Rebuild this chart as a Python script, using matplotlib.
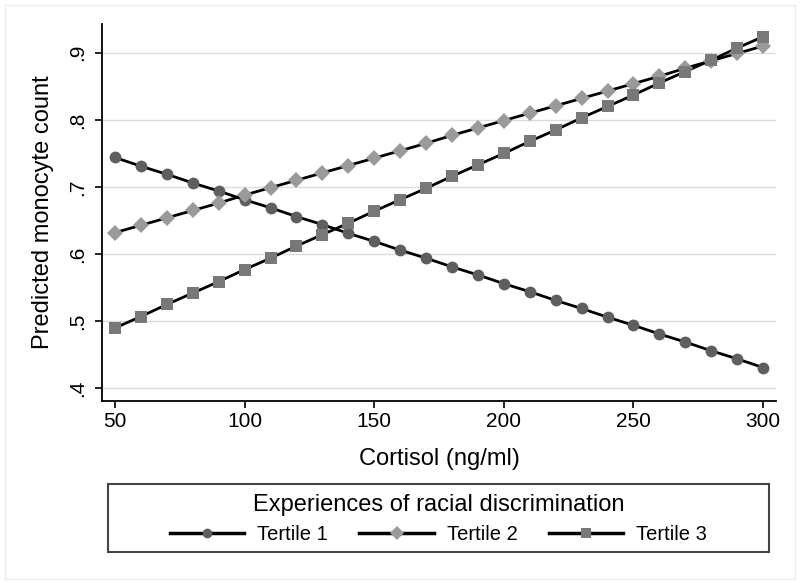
import matplotlib.pyplot as plt
from matplotlib.lines import Line2D
from matplotlib.patches import Rectangle

plt.rcParams['font.family'] = ['Liberation Sans', 'DejaVu Sans']

cortisol = [50, 60, 70, 80, 90, 100, 110, 120, 130, 140, 150, 160, 170,
            180, 190, 200, 210, 220, 230, 240, 250, 260, 270, 280, 290, 300]

tertile1 = [0.744, 0.731, 0.719, 0.706, 0.694, 0.681, 0.669, 0.656, 0.644,
            0.631, 0.619, 0.606, 0.594, 0.581, 0.569, 0.556, 0.544, 0.531,
            0.519, 0.506, 0.494, 0.481, 0.469, 0.456, 0.444, 0.431]
tertile2 = [0.632, 0.643, 0.654, 0.665, 0.676, 0.688, 0.699, 0.710, 0.721,
            0.732, 0.743, 0.754, 0.765, 0.777, 0.788, 0.799, 0.810, 0.821,
            0.832, 0.843, 0.854, 0.865, 0.877, 0.888, 0.899, 0.910]
tertile3 = [0.490, 0.507, 0.525, 0.542, 0.559, 0.577, 0.594, 0.612, 0.629,
            0.646, 0.664, 0.681, 0.698, 0.716, 0.733, 0.750, 0.768, 0.785,
            0.803, 0.820, 0.837, 0.855, 0.872, 0.889, 0.907, 0.924]

labels = ['Tertile 1', 'Tertile 2', 'Tertile 3']
yticks = [0.4, 0.5, 0.6, 0.7, 0.8, 0.9]
ytick_labels = ['.4', '.5', '.6', '.7', '.8', '.9']
xticks = [50, 100, 150, 200, 250, 300]

styles = [('o', '#5e5e5e', 8.5), ('D', '#9a9a9a', 8.5), ('s', '#787878', 9)]

fig = plt.figure(figsize=(8, 5.83), dpi=100)
ax = fig.add_axes([0.1275, 0.312, 0.8425, 0.647])

# faint outer border like the Stata graph region
fig.patches.append(Rectangle((5 / 800, 4 / 583), 790 / 800, 574 / 583,
                             transform=fig.transFigure, fill=False,
                             edgecolor='#ececec', lw=1))

handles = []
for series, lab, (mk, col, ms) in zip([tertile1, tertile2, tertile3], labels, styles):
    ax.plot(cortisol, series, color='black', lw=2, zorder=2)
    ax.plot(cortisol, series, ls='none', marker=mk, color=col, ms=ms,
            markeredgewidth=0, zorder=3)
    handles.append(Line2D([], [], color='black', lw=2.5, marker=mk,
                          markerfacecolor=col, markeredgewidth=0, ms=ms - 1.5))

ax.set_xlim(45, 305)
ax.set_ylim(0.381, 0.943)
ax.set_xticks(xticks)
ax.set_yticks(yticks)
ax.set_yticklabels(ytick_labels, rotation=90, va='center')
ax.tick_params(labelsize=15, length=5, width=1.2, direction='out')
ax.tick_params(axis='x', pad=3)
ax.tick_params(axis='y', pad=6)
ax.grid(axis='y', color='#dcdcdc', lw=1)
ax.set_axisbelow(True)
for s in ['top', 'right']:
    ax.spines[s].set_visible(False)
for s in ['left', 'bottom']:
    ax.spines[s].set_linewidth(1.3)

ax.set_xlabel('Cortisol (ng/ml)', fontsize=17, labelpad=12)
ax.set_ylabel('Predicted monocyte count', fontsize=17, labelpad=10)

# legend frame
fig.patches.append(Rectangle((108 / 800, 31 / 583), 661 / 800, 68 / 583,
                             transform=fig.transFigure, fill=False,
                             edgecolor='#444444', lw=1.5))
leg = fig.legend(handles, labels, loc='center', ncol=3,
                 bbox_to_anchor=(438.5 / 800, 64 / 583), frameon=False,
                 fontsize=14.5, title='Experiences of racial discrimination',
                 title_fontsize=17, handlelength=3.7, handletextpad=0.65,
                 columnspacing=1.55, borderpad=0.1, labelspacing=0.45)

fig.savefig('out.png', dpi=100)
